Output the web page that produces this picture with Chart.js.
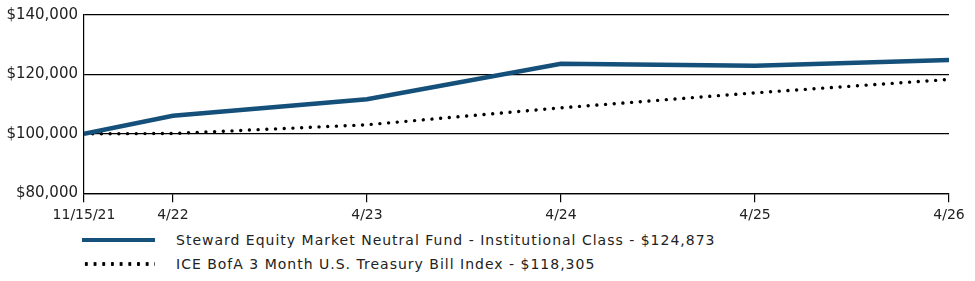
<!DOCTYPE html>
<html>
<head>
<meta charset="utf-8">
<script src="https://cdn.jsdelivr.net/npm/chart.js@4"></script>
<style>
  html, body { margin: 0; padding: 0; background: #fff; }
  body { width: 975px; height: 281px; position: relative; overflow: hidden; font-family: "DejaVu Sans", sans-serif; }
  #wrap { position: absolute; left: 0; top: 0; width: 975px; height: 229px; }
  .legend { position: absolute; left: 82px; top: 0; color: #222; font-size: 14px; letter-spacing: 1px; }
  .row { position: absolute; left: 0; white-space: nowrap; display: flex; align-items: center; }
  .sw { width: 73px; margin-right: 21px; }
  .sw.solid { height: 0; border-top: 4.5px solid #14507a; }
  .sw.dot { height: 3.6px; background-image: radial-gradient(circle, #000 1.6px, transparent 1.9px); background-size: 8.7px 3.6px; background-repeat: repeat-x; }
</style>
</head>
<body>
<div id="wrap"><canvas id="c"></canvas></div>
<div class="legend" id="legend"></div>
<script>
// ---- data ----
const tickLabels = ['11/15/21', '4/22', '4/23', '4/24', '4/25', '4/26'];
const monthsFromStart = [0, 5.5, 17.5, 29.5, 41.5, 53.5];
const fundName = 'Steward Equity Market Neutral Fund - Institutional Class - $124,873';
const fundValues = [100000, 106050, 111650, 123550, 122900, 124873];
const indexName = 'ICE BofA 3 Month U.S. Treasury Bill Index - $118,305';
const indexValues = [100000, 100100, 103050, 108750, 113800, 118305];
const yTicks = [80000, 100000, 120000, 140000];

const fundColor = '#14507a';
const toPts = (vals) => vals.map((v, i) => ({ x: monthsFromStart[i], y: v }));

Chart.defaults.font.family = '"DejaVu Sans", sans-serif';
Chart.defaults.color = '#222';

new Chart(document.getElementById('c'), {
  type: 'line',
  data: {
    datasets: [
      { label: fundName, data: toPts(fundValues), borderColor: fundColor, borderWidth: 4.5, pointRadius: 0, tension: 0, borderCapStyle: 'butt' },
      { label: indexName, data: toPts(indexValues), borderColor: '#000', borderWidth: 3.4, borderDash: [0.01, 8.7], borderCapStyle: 'round', pointRadius: 0, tension: 0 }
    ]
  },
  options: {
    responsive: true,
    maintainAspectRatio: false,
    animation: false,
    layout: { padding: { top: 2, right: 26, left: 0, bottom: 0 } },
    plugins: { legend: { display: false }, tooltip: { enabled: false } },
    scales: {
      x: {
        type: 'linear',
        min: monthsFromStart[0],
        max: monthsFromStart[monthsFromStart.length - 1],
        afterBuildTicks: (s) => { s.ticks = monthsFromStart.map(v => ({ value: v })); },
        ticks: {
          autoSkip: false, maxRotation: 0, padding: 5,
          font: { size: 14 }, color: '#222',
          callback: (v) => { const i = monthsFromStart.indexOf(v); return i >= 0 ? tickLabels[i] : ''; }
        },
        grid: { drawOnChartArea: false, drawTicks: true, tickLength: 9, color: '#000', lineWidth: 1.2 },
        border: { display: true, color: '#000', width: 1.2 }
      },
      y: {
        min: 80000, max: 140000,
        afterBuildTicks: (s) => { s.ticks = yTicks.map(v => ({ value: v })); },
        afterFit: (s) => { s.width = 84; },
        ticks: {
          padding: 6, font: { size: 15 }, color: '#222',
          callback: (v) => '$' + v.toLocaleString('en-US')
        },
        grid: { drawTicks: false, color: '#000', lineWidth: 1.2 },
        border: { display: true, color: '#000', width: 1.2 }
      }
    }
  }
});

document.getElementById('legend').innerHTML =
  '<div class="row" style="top:232px"><div class="sw solid"></div><span>' + fundName + '</span></div>' +
  '<div class="row" style="top:256px"><div class="sw dot"></div><span>' + indexName + '</span></div>';
</script>
</body>
</html>
